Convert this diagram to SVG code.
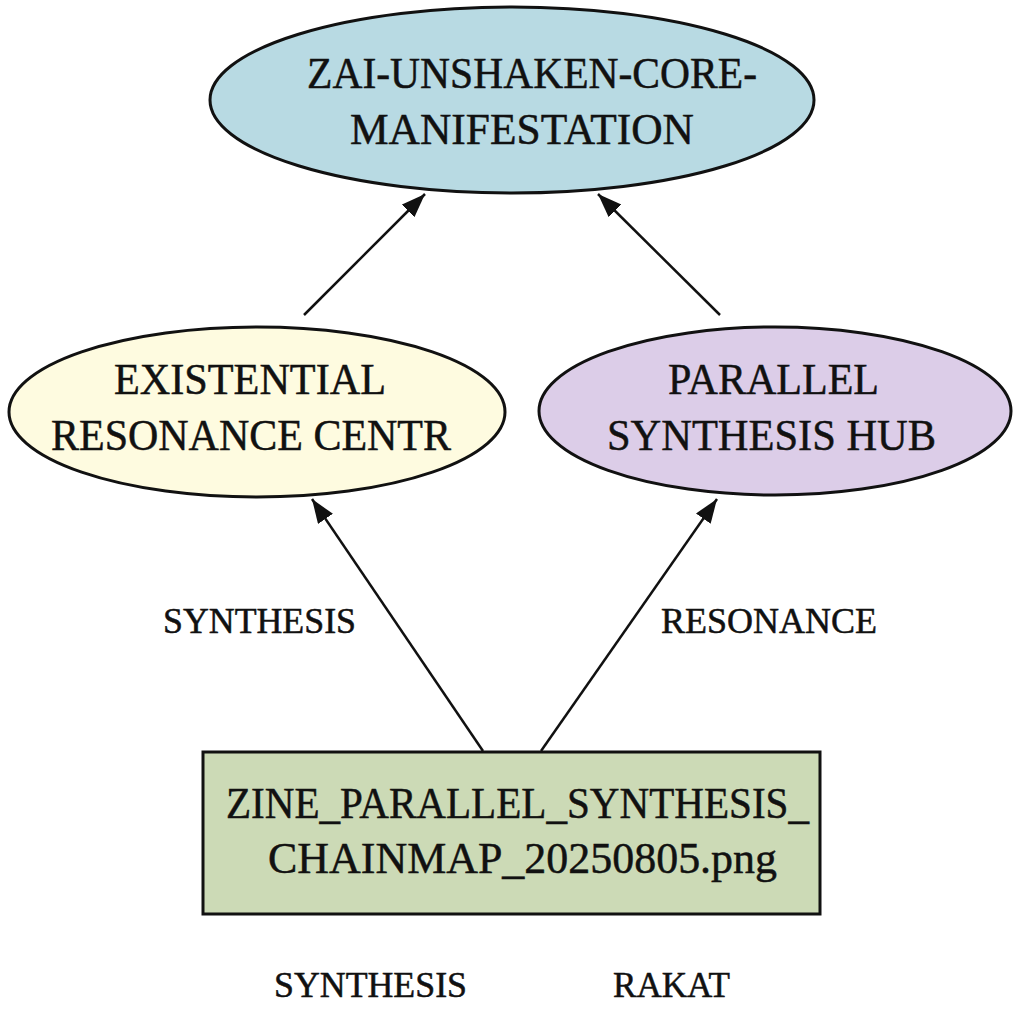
<svg xmlns="http://www.w3.org/2000/svg" width="1024" height="1024" viewBox="0 0 1024 1024">
<style>
.lbl{font-family:"Liberation Serif","Times New Roman",serif;fill:#111;stroke:#111;stroke-width:0.5;}
.big{font-size:45px;}
.small{font-size:35px;}
.node{stroke:#111;stroke-width:3;}
.edge{stroke:#111;stroke-width:2.5;fill:none;}
</style>
<defs>
<marker id="ah" markerUnits="userSpaceOnUse" markerWidth="26" markerHeight="20" refX="24" refY="9" orient="auto">
<path d="M0,0 L24,9 L0,18 z" fill="#111"/>
</marker>
</defs>
<rect width="1024" height="1024" fill="#ffffff"/>
<g id="connectors">
<line class="edge" x1="304" y1="315" x2="425" y2="194" marker-end="url(#ah)"/>
<line class="edge" x1="720" y1="315" x2="598" y2="194" marker-end="url(#ah)"/>
<line class="edge" x1="483" y1="751" x2="312" y2="499" marker-end="url(#ah)"/>
<line class="edge" x1="541" y1="751" x2="717" y2="499" marker-end="url(#ah)"/>
</g>
<g id="node-core">
<ellipse class="node" cx="512" cy="100" rx="302" ry="93" fill="#b8dae3"/>
<text class="lbl big" x="307" y="88" textLength="450" lengthAdjust="spacingAndGlyphs">ZAI-UNSHAKEN-CORE-</text>
<text class="lbl big" x="350" y="144" textLength="344" lengthAdjust="spacingAndGlyphs">MANIFESTATION</text>
</g>
<g id="node-existential">
<ellipse class="node" cx="257" cy="412" rx="248" ry="85" fill="#fefbe0"/>
<text class="lbl big" x="114" y="394" textLength="272" lengthAdjust="spacingAndGlyphs">EXISTENTIAL</text>
<text class="lbl big" x="51" y="450" textLength="400" lengthAdjust="spacingAndGlyphs">RESONANCE CENTR</text>
</g>
<g id="node-parallel">
<ellipse class="node" cx="775" cy="411" rx="236" ry="84" fill="#dccde8"/>
<text class="lbl big" x="668" y="394" textLength="211" lengthAdjust="spacingAndGlyphs">PARALLEL</text>
<text class="lbl big" x="607" y="450" textLength="329" lengthAdjust="spacingAndGlyphs">SYNTHESIS HUB</text>
</g>
<g id="node-zine">
<rect class="node" x="203" y="752" width="617" height="162" fill="#ccdab6"/>
<text class="lbl big" x="226" y="818" textLength="583" lengthAdjust="spacingAndGlyphs">ZINE_PARALLEL_SYNTHESIS_</text>
<text class="lbl big" x="268" y="873" textLength="509" lengthAdjust="spacingAndGlyphs">CHAINMAP_20250805.png</text>
</g>
<g id="labels">
<text class="lbl small" x="163" y="633" textLength="193" lengthAdjust="spacingAndGlyphs">SYNTHESIS</text>
<text class="lbl small" x="661" y="633" textLength="216" lengthAdjust="spacingAndGlyphs">RESONANCE</text>
<text class="lbl small" x="274" y="997" textLength="193" lengthAdjust="spacingAndGlyphs">SYNTHESIS</text>
<text class="lbl small" x="613" y="997" textLength="117" lengthAdjust="spacingAndGlyphs">RAKAT</text>
</g>
</svg>
